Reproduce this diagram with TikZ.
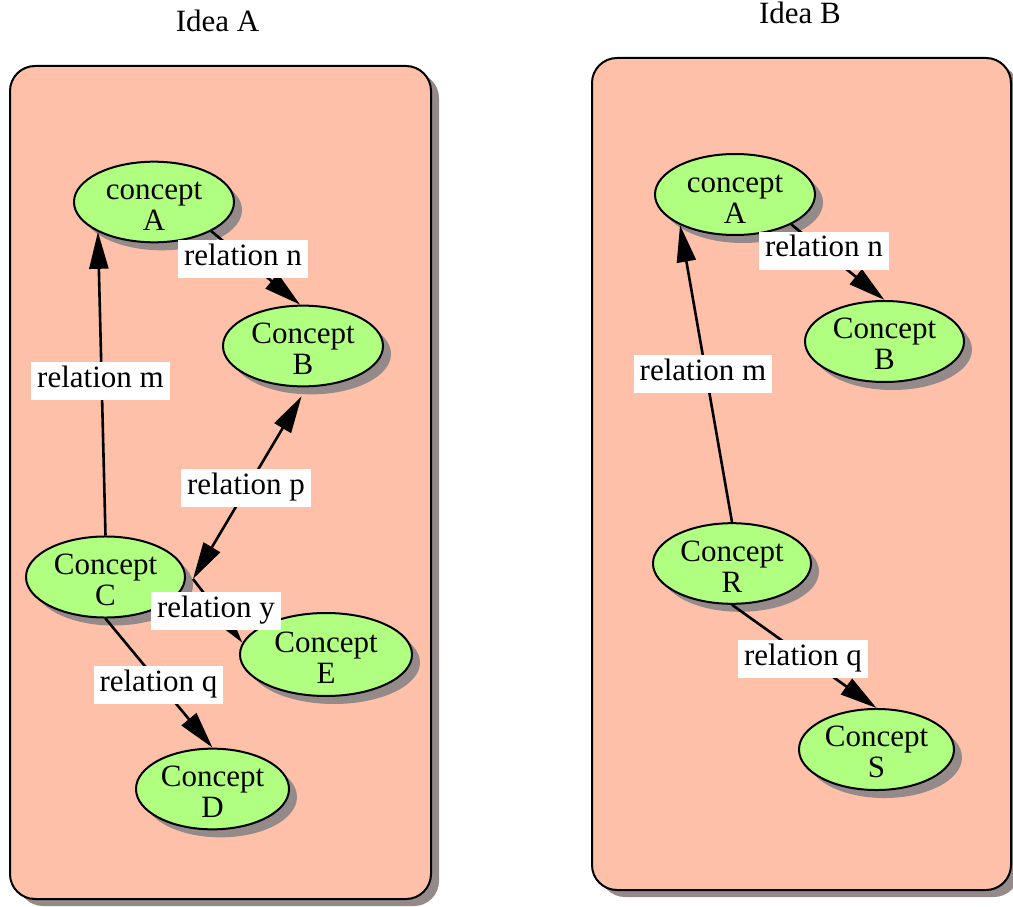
\documentclass[tikz,border=0pt]{standalone}
\usepackage{fontspec}
\setmainfont{Liberation Serif}
\usetikzlibrary{arrows.meta,shapes.geometric,shadows}
\definecolor{boxfill}{RGB}{254,192,168}
\definecolor{nodefill}{RGB}{176,255,128}
\definecolor{shadowc}{RGB}{148,138,138}
\newcommand\conceptlabel[2]{\rule{0pt}{26pt}#1\\#2}
\tikzset{
  ideabox/.style={rectangle, draw, line width=2pt, fill=boxfill, rounded corners=25pt, inner sep=0pt,
    drop shadow={shadow xshift=8pt, shadow yshift=-7pt, fill=shadowc, opacity=1}},
  concept/.style={ellipse, draw, line width=2pt, fill=nodefill, inner sep=0pt, align=center,
    drop shadow={shadow xshift=8pt, shadow yshift=-8pt, fill=shadowc, opacity=1}},
  rel/.style={fill=white, inner xsep=6pt, inner ysep=5pt, text height=20pt, text depth=8pt},
  link/.style={line width=2.6pt, -{Triangle[length=37pt,width=19pt]}},
  biglink/.style={line width=2.6pt, {Triangle[length=37pt,width=19pt]}-{Triangle[length=37pt,width=19pt]}},
  title/.style={anchor=base}
}
\begin{document}
\begin{tikzpicture}[x=1pt,y=-1pt, every node/.style={font=\fontsize{31}{31}\selectfont}]
\useasboundingbox (0,0) rectangle (1013,907);
% containers
\node[ideabox, minimum width=421pt, minimum height=833pt] (boxA) at (220.5,482.5) {};
\node[ideabox, minimum width=419pt, minimum height=832pt] (boxB) at (801.5,474) {};
\node[title] (titleA) at (217.5,32) {Idea A};
\node[title] (titleB) at (800,24) {Idea B};
% Idea A concepts
\node[concept, minimum width=160pt, minimum height=79pt] (A) at (154,202) {\conceptlabel{concept}{A}};
\node[concept, minimum width=160pt, minimum height=77pt] (B) at (303,346) {\conceptlabel{Concept}{B}};
\node[concept, minimum width=159pt, minimum height=78pt] (C) at (105.5,577) {\conceptlabel{Concept}{C}};
\node[concept, minimum width=172pt, minimum height=83pt] (E) at (326,654.5) {\conceptlabel{Concept}{E}};
\node[concept, minimum width=153pt, minimum height=80pt] (D) at (212.5,789) {\conceptlabel{Concept}{D}};
% Idea B concepts
\node[concept, minimum width=160pt, minimum height=81pt] (A2) at (735,194.5) {\conceptlabel{concept}{A}};
\node[concept, minimum width=159pt, minimum height=81pt] (B2) at (884.5,341.5) {\conceptlabel{Concept}{B}};
\node[concept, minimum width=158pt, minimum height=79pt] (R) at (732,563.5) {\conceptlabel{Concept}{R}};
\node[concept, minimum width=155pt, minimum height=81pt] (S) at (876.5,749.5) {\conceptlabel{Concept}{S}};
% connectors Idea A
\draw[link] (C.90) -- (A.208);
\draw[link] (A.333) -- (B.94);
\draw[biglink] ([yshift=-9pt]B.268) -- ([xshift=7pt,yshift=-2pt]C.east);
\draw[link] ([xshift=7pt,yshift=-2pt]C.east) -- (E.172);
\draw[link] (C.270) -- (D.90);
% connectors Idea B
\draw[link] (R.90) -- (A2.209);
\draw[link] (A2.332) -- (B2.90);
\draw[link] (R.270) -- (S.90);
% labels Idea A
\node[rel] (lm) at (100.5,381) {relation m};
\node[rel] (ln) at (243,259) {relation n};
\node[rel] (lp) at (246,488) {relation p};
\node[rel] (ly) at (216,611) {relation y};
\node[rel] (lq) at (158.5,685) {relation q};
% labels Idea B
\node[rel] (lm2) at (703,374) {relation m};
\node[rel] (ln2) at (824,250.5) {relation n};
\node[rel] (lq2) at (803,659) {relation q};
\end{tikzpicture}
\end{document}
